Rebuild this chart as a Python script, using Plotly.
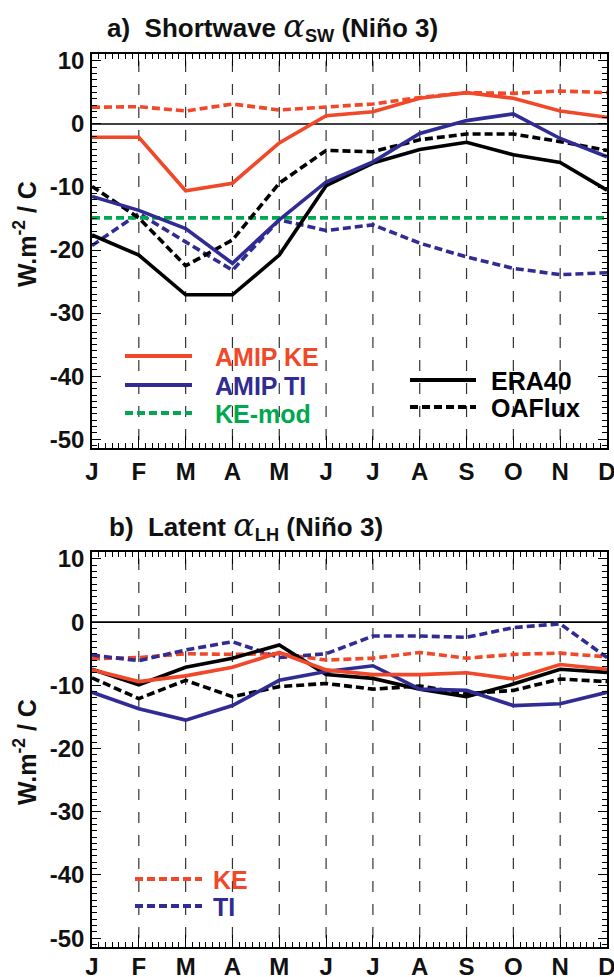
import plotly.graph_objects as go

# ---------------- data ----------------
months = ["J", "F", "M", "A", "M", "J", "J", "A", "S", "O", "N", "D"]
month_idx = list(range(12))
y_tickvals = [10, 0, -10, -20, -30, -40, -50]
y_ticktext = ["10", "0", "-10", "-20", "-30", "-40", "-50"]

# panel a : shortwave alpha_SW (Nino 3)
sw_amip_ke = [-2.1, -2.1, -10.6, -9.4, -3.0, 1.3, 1.95, 4.07, 4.97, 4.07, 2.06, 1.06]
sw_amip_ti = [-11.5, -13.7, -16.6, -22.1, -15.2, -9.2, -6.0, -1.5, 0.53, 1.6, -2.3, -5.2]
sw_era40 = [-17.6, -20.8, -27.1, -27.1, -20.8, -9.8, -6.2, -4.05, -2.9, -4.9, -6.1, -10.5]
sw_oaflux = [-9.9, -14.9, -22.5, -18.4, -9.4, -4.2, -4.4, -2.5, -1.6, -1.6, -2.8, -4.2]
sw_ke = [2.65, 2.75, 2.06, 3.17, 2.22, 2.75, 3.17, 4.2, 4.97, 4.86, 5.23, 4.97]
sw_ti = [-19.3, -14.2, -18.7, -23.2, -15.2, -16.9, -16.0, -18.9, -21.1, -22.9, -23.9, -23.6]
sw_ke_mod = [-14.9, -14.9, -14.9, -14.9, -14.9, -14.9, -14.9, -14.9, -14.9, -14.9, -14.9, -14.9]

# panel b : latent alpha_LH (Nino 3)
lh_amip_ke = [-7.55, -9.4, -8.5, -7.15, -4.8, -7.55, -8.3, -8.3, -8.0, -9.0, -6.7, -7.45]
lh_amip_ti = [-11.1, -13.7, -15.5, -13.2, -9.2, -7.8, -6.9, -10.6, -10.8, -13.2, -12.9, -11.1]
lh_era40 = [-7.45, -9.9, -7.15, -5.7, -3.6, -8.3, -8.9, -10.6, -11.8, -9.8, -7.45, -7.95]
lh_oaflux = [-8.8, -12.1, -9.2, -11.8, -10.2, -9.7, -10.6, -10.1, -11.3, -10.8, -9.0, -9.4]
lh_ke = [-5.8, -5.6, -5.0, -5.1, -5.0, -6.0, -5.7, -4.8, -5.7, -5.1, -4.9, -5.5]
lh_ti = [-5.2, -6.1, -4.4, -3.1, -5.6, -5.0, -2.2, -2.2, -2.4, -0.87, -0.26, -5.6]

# ---------------- style ----------------
RED = "rgb(240,72,40)"
BLUE = "rgb(48,44,148)"
GREEN = "rgb(0,168,80)"
BLACK = "black"
TXT = "#111111"
FONT = "Liberation Sans, Arial, sans-serif"
LW = 3.6
DASH = "8px,4px"

W, H = 614, 977
L, R, T, B = 92, 7, 54, 30
PW = W - L - R
PH = H - T - B
YR = [-51.4, 11.1]


def px(xp):
    return (xp - L) / PW


def py(yp):
    return (H - B - yp) / PH


fig = go.Figure()

series_a = [
    (sw_ke, RED, DASH), (sw_ti, BLUE, DASH), (sw_ke_mod, GREEN, DASH),
    (sw_oaflux, BLACK, DASH), (sw_era40, BLACK, "solid"),
    (sw_amip_ti, BLUE, "solid"), (sw_amip_ke, RED, "solid"),
]
names_a = ["KE", "TI", "KE-mod", "OAFlux", "ERA40", "AMIP TI", "AMIP KE"]
for (vals, col, dash), nm in zip(series_a, names_a):
    fig.add_trace(go.Scatter(x=month_idx, y=vals, mode="lines", name=nm,
                             line=dict(color=col, width=LW, dash=dash),
                             showlegend=False, xaxis="x", yaxis="y"))

series_b = [
    (lh_ke, RED, DASH), (lh_ti, BLUE, DASH),
    (lh_oaflux, BLACK, DASH), (lh_era40, BLACK, "solid"),
    (lh_amip_ti, BLUE, "solid"), (lh_amip_ke, RED, "solid"),
]
names_b = ["KE", "TI", "OAFlux", "ERA40", "AMIP TI", "AMIP KE"]
for (vals, col, dash), nm in zip(series_b, names_b):
    fig.add_trace(go.Scatter(x=month_idx, y=vals, mode="lines", name=nm,
                             line=dict(color=col, width=LW, dash=dash),
                             showlegend=False, xaxis="x2", yaxis="y2"))

shapes = []
# vertical dashed month lines
for xr, yr in (("x", "y"), ("x2", "y2")):
    for i in range(1, 11):
        shapes.append(dict(type="line", xref=xr, yref=yr, x0=i, x1=i, y0=10, y1=YR[0],
                           line=dict(color="#333333", width=1.2, dash="11px,12px"),
                           layer="below"))
    shapes.append(dict(type="line", xref=xr, yref=yr, x0=0, x1=11, y0=0, y1=0,
                       line=dict(color="black", width=1.6), layer="below"))

# legend backgrounds (hide grid under legends)
for (x0, x1, y0, y1) in ((100, 345, 335, 447), (395, 606, 358, 447), (100, 262, 852, 946)):
    shapes.append(dict(type="rect", xref="paper", yref="paper",
                       x0=px(x0), x1=px(x1), y0=py(y1), y1=py(y0),
                       fillcolor="white", line=dict(width=0), layer="below"))

annotations = []
# legend entries: (x0, x1, y, text x, label, color, dash)
leg = [
    (125, 192, 356, 213, "AMIP KE", RED, "solid"),
    (125, 192, 385, 213, "AMIP TI", BLUE, "solid"),
    (125, 192, 413, 213, "KE-mod", GREEN, DASH),
    (410, 476, 380, 489, "ERA40", BLACK, "solid"),
    (410, 476, 407, 489, "OAFlux", BLACK, DASH),
    (135, 202, 879, 211, "KE", RED, DASH),
    (135, 202, 906, 211, "TI", BLUE, DASH),
]
for x0, x1, yy, tx, lab, col, dash in leg:
    shapes.append(dict(type="line", xref="paper", yref="paper",
                       x0=px(x0), x1=px(x1), y0=py(yy), y1=py(yy),
                       line=dict(color=col, width=4, dash=dash)))
    annotations.append(dict(xref="paper", yref="paper", x=px(tx), y=py(yy + 1),
                            xanchor="left", yanchor="middle", showarrow=False,
                            text=lab, font=dict(family=FONT, size=25, color=col, weight="bold")))

alpha = "<span style=\"font-family:'DejaVu Serif';font-style:italic;font-weight:normal;font-size:32px\">α</span>"
titles = [
    (105, 27, "a)\u00a0\u00a0Shortwave " + alpha + "<sub>SW</sub> (Niño 3)"),
    (107, 525, "b)\u00a0\u00a0Latent " + alpha + "<sub>LH</sub> (Niño 3)"),
]
for tx, ty, txt in titles:
    annotations.append(dict(xref="paper", yref="paper", x=px(tx), y=py(ty),
                            xanchor="left", yanchor="middle", showarrow=False,
                            text=txt, font=dict(family=FONT, size=26, color=TXT, weight="bold")))

for yc in (234, 752):
    annotations.append(dict(xref="paper", yref="paper", x=px(25), y=py(yc),
                            xanchor="center", yanchor="middle", showarrow=False, textangle=-90,
                            text="W.m<sup>-2</sup> / C",
                            font=dict(family=FONT, size=25, color=TXT, weight="bold")))

xaxis_common = dict(
    range=[0, 11], tickmode="array", tickvals=month_idx, ticktext=months,
    ticks="inside", ticklen=12, tickwidth=1.2, tickcolor="black",
    showline=True, linecolor="black", linewidth=1.6, mirror="allticks",
    showgrid=False, zeroline=False, ticklabeloverflow="allow",
    tickfont=dict(family=FONT, size=24, color=TXT, weight="bold"),
    minor=dict(tickmode="linear", tick0=0, dtick=1 / 7, ticks="inside", ticklen=5,
               tickwidth=1, tickcolor="black", showgrid=False),
)
yaxis_common = dict(
    range=YR, tickmode="array", tickvals=y_tickvals, ticktext=y_ticktext,
    ticks="inside", ticklen=9, tickwidth=1.2, tickcolor="black",
    showline=True, linecolor="black", linewidth=1.6, mirror="allticks",
    showgrid=False, zeroline=False,
    tickfont=dict(family=FONT, size=24, color=TXT, weight="bold"),
    minor=dict(tickmode="linear", tick0=0, dtick=1, ticks="inside", ticklen=5,
               tickwidth=1, tickcolor="black", showgrid=False),
    ticklabelstandoff=1,
)

fig.update_layout(
    width=W, height=H,
    margin=dict(l=L, r=R, t=T, b=B, autoexpand=False),
    paper_bgcolor="white", plot_bgcolor="white",
    showlegend=False,
    xaxis=dict(xaxis_common, anchor="y", domain=[0, 1], ticklabelstandoff=1),
    yaxis=dict(yaxis_common, anchor="x", domain=[py(448), 1]),
    xaxis2=dict(xaxis_common, anchor="y2", domain=[0, 1], ticklabelstandoff=-3),
    yaxis2=dict(yaxis_common, anchor="x2", domain=[0, py(552)]),
    shapes=shapes,
    annotations=annotations,
)

fig.write_html("out.html")
